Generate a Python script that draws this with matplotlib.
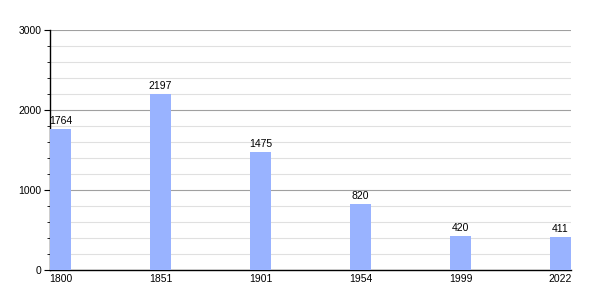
import matplotlib.pyplot as plt
from matplotlib.ticker import MultipleLocator

years = ['1800', '1851', '1901', '1954', '1999', '2022']
population = [1764, 2197, 1475, 820, 420, 411]

plt.rcParams['font.family'] = ['Liberation Sans', 'DejaVu Sans']

fig = plt.figure(figsize=(6, 3), dpi=100)
ax = fig.add_axes([50 / 600, 0.1, 521 / 600, 0.8])

bar_w = 0.21
pos = list(range(len(years)))
ax.bar(pos, population, width=bar_w, align='edge', color='#99b3ff', zorder=3)

for x, v in zip(pos, population):
    ax.text(x + bar_w / 2, v + 40, str(v), ha='center', va='bottom', fontsize=7.5, zorder=4)

ax.set_xlim(0, len(years) - 1 + bar_w)
ax.set_ylim(0, 3000)
ax.set_xticks([p + bar_w / 2 for p in pos])
ax.set_xticklabels(years)
ax.yaxis.set_major_locator(MultipleLocator(1000))
ax.yaxis.set_minor_locator(MultipleLocator(200))

ax.grid(axis='y', which='major', color='#a0a0a0', linewidth=0.8, zorder=0)
ax.grid(axis='y', which='minor', color='#e0e0e0', linewidth=0.8, zorder=0)

for s in ['top', 'right']:
    ax.spines[s].set_visible(False)
for s in ['left', 'bottom']:
    ax.spines[s].set_color('black')
    ax.spines[s].set_linewidth(1)

ax.tick_params(axis='x', length=0, labelsize=7.5, pad=3)
ax.tick_params(axis='y', which='major', length=4, labelsize=7.5, pad=2)
ax.tick_params(axis='y', which='minor', length=2)

fig.savefig('out.png', dpi=100)
